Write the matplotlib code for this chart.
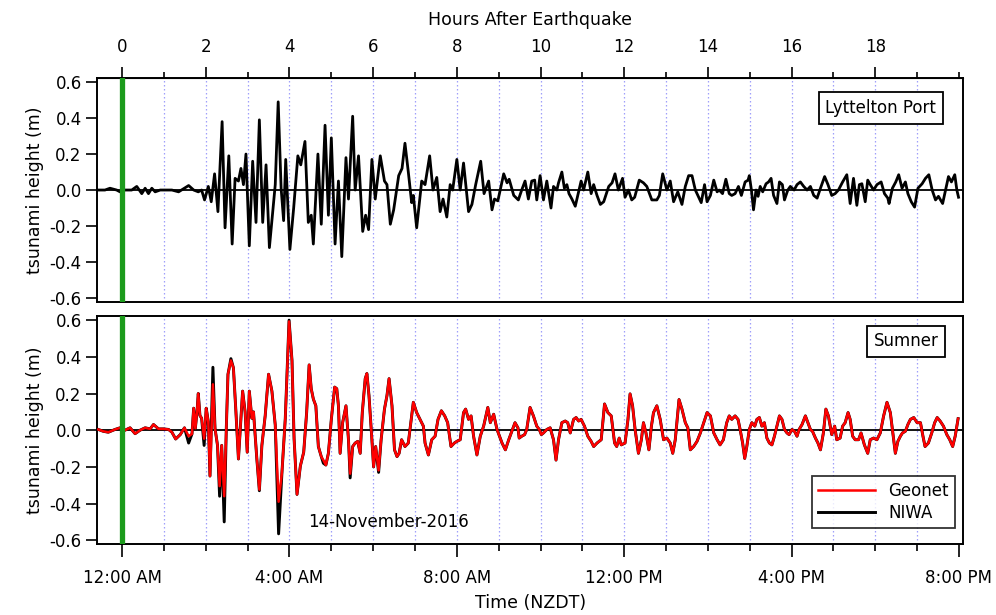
import matplotlib
matplotlib.use("Agg")
import matplotlib.pyplot as plt
from matplotlib.ticker import MultipleLocator, FormatStrFormatter

plt.rcParams['font.family'] = ['DejaVu Sans']
plt.rcParams['axes.unicode_minus'] = False

# ---------------- data (hours after earthquake, metres) ----------------
lyttelton_t = [-0.57, -0.41, -0.29, -0.13, -0.05, 0.07, 0.23, 0.35, 0.47, 0.55, 0.63, 0.71, 0.79, 0.91,
               1.19, 1.35, 1.59, 1.71, 1.82, 1.90, 1.97, 2.06, 2.13, 2.21, 2.29, 2.39, 2.46, 2.55, 2.63,
               2.70, 2.78, 2.84, 2.90, 2.96, 3.04, 3.12, 3.20, 3.28, 3.36, 3.44, 3.52, 3.66, 3.73, 3.80,
               3.86, 3.91, 4.01, 4.10, 4.20, 4.27, 4.37, 4.45, 4.52, 4.57, 4.68, 4.76, 4.85, 4.93, 5.00,
               5.09, 5.17, 5.25, 5.35, 5.41, 5.51, 5.57, 5.65, 5.75, 5.82, 5.89, 5.97, 6.05, 6.17, 6.27,
               6.33, 6.41, 6.49, 6.61, 6.69, 6.76, 6.84, 6.92, 6.96, 7.04, 7.16, 7.24, 7.35, 7.43, 7.52,
               7.60, 7.67, 7.76, 7.84, 7.90, 8.00, 8.08, 8.16, 8.28, 8.36, 8.45, 8.57, 8.65, 8.76, 8.84,
               8.90, 8.98, 9.12, 9.20, 9.25, 9.36, 9.47, 9.55, 9.63, 9.71, 9.79, 9.86, 9.91, 9.99, 10.07,
               10.15, 10.25, 10.31, 10.39, 10.43, 10.51, 10.57, 10.63, 10.68, 10.75, 10.83, 10.91, 10.97,
               11.03, 11.13, 11.21, 11.27, 11.35, 11.43, 11.51, 11.63, 11.71, 11.78, 11.86, 11.96, 12.02,
               12.10, 12.18, 12.25, 12.36, 12.46, 12.54, 12.66, 12.78, 12.84, 12.92, 13.02, 13.10, 13.18,
               13.28, 13.38, 13.46, 13.54, 13.62, 13.70, 13.74, 13.84, 13.92, 13.98, 14.06, 14.14, 14.22,
               14.27, 14.35, 14.43, 14.51, 14.57, 14.65, 14.73, 14.80, 14.89, 14.96, 14.99, 15.04, 15.09,
               15.15, 15.20, 15.25, 15.31, 15.39, 15.45, 15.51, 15.57, 15.65, 15.71, 15.78, 15.83, 15.91,
               15.97, 16.06, 16.13, 16.21, 16.29, 16.37, 16.45, 16.53, 16.61, 16.69, 16.79, 16.87, 16.96,
               17.04, 17.12, 17.22, 17.32, 17.40, 17.48, 17.56, 17.62, 17.68, 17.76, 17.82, 17.88, 17.96,
               18.04, 18.14, 18.22, 18.30, 18.33, 18.41, 18.49, 18.56, 18.64, 18.72, 18.78, 18.86, 18.94,
               19.02, 19.12, 19.20, 19.28, 19.36, 19.44, 19.51, 19.61, 19.69, 19.75, 19.82, 19.90, 19.95,
               19.99]
lyttelton_h = [0.0, 0.0, 0.01, 0.0, -0.01, 0.0, 0.0, 0.02, -0.02, 0.01, -0.02, 0.01, -0.01, 0.0,
               0.0, -0.01, 0.025, 0.0, -0.01, 0.0, -0.055, 0.02, -0.065, 0.09, -0.12, 0.38, -0.21, 0.19, -0.30,
               0.065, 0.05, 0.12, 0.03, 0.20, -0.31, 0.16, -0.18, 0.39, -0.18, 0.14, -0.32, 0.03, 0.49, 0.01,
               -0.17, 0.17, -0.33, -0.10, 0.19, 0.14, 0.27, -0.18, -0.14, -0.30, 0.20, -0.19, 0.36, -0.14, 0.29,
               -0.30, 0.05, -0.37, 0.18, -0.05, 0.41, 0.0, 0.19, -0.23, -0.14, -0.22, 0.17, -0.05, 0.19, 0.05,
               0.03, -0.19, -0.11, 0.08, 0.12, 0.26, 0.10, -0.07, -0.03, -0.21, 0.05, 0.03, 0.19, 0.0, 0.07,
               -0.12, -0.05, -0.15, 0.03, 0.0, 0.17, 0.0, 0.15, -0.12, -0.08, 0.03, 0.16, -0.02, 0.05, -0.11,
               -0.05, -0.06, 0.09, 0.04, 0.06, -0.03, -0.055, 0.0, 0.05, -0.05, 0.05, 0.055, -0.055, 0.08, -0.055,
               0.05, -0.10, 0.02, 0.0, 0.04, 0.10, 0.01, 0.03, -0.02, -0.05, -0.09, -0.01, 0.05,
               0.0, 0.10, -0.02, 0.03, -0.03, -0.08, -0.065, 0.02, 0.04, 0.09, 0.0, 0.065, -0.04,
               0.0, -0.055, -0.04, 0.055, 0.04, 0.02, -0.055, -0.055, -0.03, 0.09, 0.0, 0.05, -0.065,
               -0.01, -0.08, 0.02, 0.08, 0.08, 0.0, -0.02, -0.07, 0.03, -0.065, -0.03, 0.055, -0.01,
               0.0, -0.02, 0.06, -0.02, -0.03, -0.02, 0.02, -0.03, 0.045, 0.055, 0.08, 0.0, -0.11,
               0.0, -0.035, 0.02, -0.01, 0.035, 0.045, 0.065, -0.03, -0.075, 0.045, 0.03, -0.055, 0.0,
               0.02, 0.0, 0.03, 0.045, 0.02, 0.0, 0.02, -0.03, -0.045, 0.01, 0.075, 0.03, -0.03,
               -0.02, 0.0, 0.045, 0.085, -0.075, 0.065, -0.085, 0.03, 0.035, -0.065, 0.055, 0.03, 0.0,
               0.03, 0.045, -0.02, -0.045, -0.075, 0.01, 0.045, 0.085, 0.01, 0.045, -0.02, -0.065, -0.095,
               0.01, 0.035, 0.065, 0.085, 0.0, -0.055, -0.035, -0.075, 0.01, 0.075, 0.045, 0.085, 0.0,
               -0.04]

sumner_t = [-0.57, -0.45, -0.33, -0.17, -0.05, 0.07, 0.19, 0.31, 0.43, 0.55, 0.67, 0.75, 0.87, 0.99,
            1.11, 1.19, 1.28, 1.39, 1.49, 1.59, 1.67, 1.71, 1.75, 1.79, 1.82, 1.86, 1.90, 1.96, 2.01,
            2.06, 2.10, 2.17, 2.22, 2.28, 2.33, 2.38, 2.44, 2.49, 2.53, 2.60, 2.66, 2.72, 2.78, 2.88,
            2.94, 2.99, 3.04, 3.10, 3.14, 3.22, 3.28, 3.34, 3.42, 3.50, 3.58, 3.66, 3.74, 3.82, 3.90,
            3.99, 4.06, 4.11, 4.18, 4.26, 4.34, 4.41, 4.47, 4.52, 4.57, 4.63, 4.69, 4.76, 4.81, 4.87,
            4.93, 5.00, 5.08, 5.13, 5.17, 5.21, 5.27, 5.35, 5.41, 5.45, 5.51, 5.57, 5.63, 5.69, 5.74,
            5.81, 5.85, 5.90, 5.97, 6.01, 6.06, 6.13, 6.19, 6.27, 6.33, 6.38, 6.45, 6.51, 6.57, 6.62,
            6.68, 6.76, 6.84, 6.91, 6.96, 7.04, 7.12, 7.20, 7.24, 7.32, 7.40, 7.48, 7.55, 7.63, 7.71,
            7.78, 7.86, 7.94, 8.00, 8.08, 8.16, 8.21, 8.28, 8.34, 8.40, 8.48, 8.56, 8.64, 8.74, 8.80,
            8.88, 8.96, 9.08, 9.16, 9.24, 9.36, 9.39, 9.46, 9.49, 9.55, 9.62, 9.67, 9.75, 9.83, 9.91,
            9.97, 10.02, 10.07, 10.15, 10.23, 10.31, 10.37, 10.43, 10.51, 10.59, 10.65, 10.71, 10.79,
            10.85, 10.91, 10.97, 11.05, 11.13, 11.21, 11.27, 11.35, 11.45, 11.53, 11.61, 11.69, 11.77,
            11.82, 11.88, 11.93, 12.02, 12.09, 12.14, 12.20, 12.26, 12.34, 12.41, 12.46, 12.52, 12.59,
            12.65, 12.70, 12.78, 12.86, 12.94, 13.02, 13.10, 13.16, 13.22, 13.31, 13.38, 13.46, 13.52,
            13.58, 13.66, 13.74, 13.82, 13.90, 13.98, 14.06, 14.14, 14.22, 14.29, 14.37, 14.45, 14.51,
            14.57, 14.65, 14.72, 14.77, 14.83, 14.88, 14.93, 14.99, 15.05, 15.12, 15.17, 15.23, 15.29,
            15.35, 15.41, 15.47, 15.53, 15.59, 15.65, 15.71, 15.77, 15.83, 15.89, 15.94, 16.01, 16.07,
            16.13, 16.18, 16.25, 16.33, 16.39, 16.45, 16.50, 16.57, 16.63, 16.69, 16.76, 16.82, 16.88,
            16.96, 17.03, 17.08, 17.16, 17.22, 17.28, 17.35, 17.40, 17.46, 17.52, 17.60, 17.66, 17.74,
            17.82, 17.88, 17.96, 18.04, 18.12, 18.20, 18.28, 18.36, 18.41, 18.48, 18.54, 18.60, 18.65,
            18.72, 18.78, 18.84, 18.92, 19.00, 19.08, 19.14, 19.19, 19.27, 19.35, 19.42, 19.48, 19.55,
            19.63, 19.71, 19.78, 19.85, 19.91, 19.98]
geonet_h = [0.004, -0.006, -0.011, 0.004, 0.013, 0.0, 0.013, -0.019, 0.0, 0.013, 0.007, 0.031, 0.007, 0.007,
            0.004, -0.011, -0.048, -0.024, 0.013, -0.033, -0.02, 0.12, 0.01, 0.10, 0.20, 0.08, 0.065, -0.046, 0.12,
            0.046, -0.25, 0.25, 0.01, -0.083, -0.305, -0.083, -0.36, 0.01, 0.305, 0.38, 0.34, 0.10, -0.157, 0.213,
            0.10, -0.12, 0.213, 0.065, 0.10, -0.157, -0.324, -0.083, 0.08, 0.305, 0.213, 0.028, -0.39, -0.23, 0.065,
            0.593, 0.38, -0.046, -0.35, -0.195, -0.12, 0.096, 0.356, 0.226, 0.17, 0.133, -0.089, -0.144, -0.163, -0.19,
            -0.126, 0.059, 0.235, 0.226, 0.133, -0.126, 0.041, 0.133, -0.052, -0.237, -0.089, -0.07, -0.061, -0.126, 0.096,
            0.281, 0.309, 0.189, -0.052, -0.2, -0.089, -0.219, -0.052, 0.115, 0.189, 0.281, 0.133, -0.107, -0.144, -0.126,
            -0.052, -0.089, -0.07, 0.059, 0.152, 0.096, 0.059, 0.022, -0.07, -0.135, -0.052, -0.033, 0.059, 0.106, 0.078,
            0.041, -0.089, -0.07, -0.061, -0.052, 0.096, 0.115, 0.059, 0.078, -0.033, -0.135, -0.033, 0.022, 0.124, 0.041,
            0.087, 0.004, -0.07, -0.107, -0.052, 0.022, 0.041, 0.013, -0.043, -0.033, -0.024, 0.004, 0.124, 0.078, 0.022,
            0.004, -0.024, -0.015, 0.004, 0.013, -0.052, -0.163, -0.052, 0.041, 0.05, 0.041, -0.015, 0.059,
            0.069, 0.05, 0.059, 0.022, -0.033, -0.061, -0.089, -0.07, -0.052, 0.143, 0.096, 0.078, -0.07,
            -0.089, -0.043, -0.08, -0.07, 0.059, 0.198, 0.133, 0.004, -0.126, -0.052, 0.041, -0.015, -0.107,
            0.022, 0.096, 0.133, 0.059, -0.052, -0.043, -0.07, -0.126, -0.052, 0.167, 0.115, 0.041, 0.013,
            -0.107, -0.089, -0.061, -0.015, 0.041, 0.096, 0.078, -0.015, -0.052, -0.08, -0.052, 0.041, 0.078,
            0.059, 0.078, 0.059, 0.004, -0.07, -0.154, -0.089, 0.004, 0.041, 0.022, 0.059, 0.069, 0.022,
            0.041, -0.043, -0.07, -0.08, -0.033, 0.022, 0.078, 0.059, 0.004, -0.015, -0.024, 0.004, -0.006,
            -0.033, 0.004, 0.031, 0.078, 0.041, 0.004, -0.006, -0.043, -0.07, -0.107, -0.015, 0.115, 0.078,
            -0.024, 0.022, -0.052, -0.043, 0.022, 0.041, 0.096, 0.059, -0.033, -0.052, -0.052, -0.015, -0.08,
            -0.126, -0.052, -0.043, -0.052, -0.015, 0.078, 0.152, 0.096, 0.004, -0.126, -0.061, -0.033, -0.015,
            -0.006, 0.031, 0.059, 0.069, 0.041, 0.041, -0.033, -0.089, -0.07, -0.015, 0.041, 0.069, 0.05,
            0.022, -0.024, -0.052, -0.089, -0.033, 0.063]
niwa_h = [0.004, -0.006, -0.011, 0.004, 0.013, 0.0, 0.013, -0.019, 0.0, 0.013, 0.007, 0.031, 0.007, 0.007,
          0.004, -0.011, -0.048, -0.024, 0.013, -0.07, -0.02, 0.12, 0.01, 0.10, 0.20, 0.08, 0.065, -0.083, 0.12,
          0.046, -0.25, 0.343, 0.01, -0.083, -0.36, -0.083, -0.50, 0.01, 0.305, 0.39, 0.34, 0.10, -0.157, 0.213,
          0.10, -0.12, 0.213, 0.065, 0.10, -0.157, -0.33, -0.083, 0.08, 0.305, 0.213, 0.028, -0.565, -0.23, 0.065,
          0.60, 0.38, -0.046, -0.35, -0.195, -0.12, 0.096, 0.356, 0.226, 0.17, 0.133, -0.089, -0.144, -0.18, -0.19,
          -0.126, 0.059, 0.235, 0.226, 0.133, -0.126, 0.041, 0.133, -0.052, -0.26, -0.089, -0.07, -0.061, -0.126, 0.096,
          0.281, 0.309, 0.189, -0.052, -0.2, -0.089, -0.23, -0.052, 0.115, 0.189, 0.281, 0.133, -0.107, -0.144, -0.126,
          -0.052, -0.089, -0.07, 0.059, 0.152, 0.096, 0.059, 0.022, -0.07, -0.135, -0.052, -0.033, 0.059, 0.106, 0.078,
          0.041, -0.089, -0.07, -0.061, -0.052, 0.096, 0.115, 0.059, 0.078, -0.033, -0.135, -0.033, 0.022, 0.124, 0.041,
          0.087, 0.004, -0.07, -0.107, -0.052, 0.022, 0.041, 0.013, -0.043, -0.033, -0.024, 0.004, 0.124, 0.078, 0.022,
          0.004, -0.024, -0.015, 0.004, 0.013, -0.052, -0.163, -0.052, 0.041, 0.05, 0.041, -0.015, 0.059,
          0.069, 0.05, 0.059, 0.022, -0.033, -0.061, -0.089, -0.07, -0.052, 0.143, 0.096, 0.078, -0.07,
          -0.089, -0.043, -0.08, -0.07, 0.059, 0.198, 0.133, 0.004, -0.126, -0.052, 0.041, -0.015, -0.107,
          0.022, 0.096, 0.133, 0.059, -0.052, -0.043, -0.07, -0.126, -0.052, 0.167, 0.115, 0.041, 0.013,
          -0.107, -0.089, -0.061, -0.015, 0.041, 0.096, 0.078, -0.015, -0.052, -0.08, -0.052, 0.041, 0.078,
          0.059, 0.078, 0.059, 0.004, -0.07, -0.154, -0.089, 0.004, 0.041, 0.022, 0.059, 0.069, 0.022,
          0.041, -0.043, -0.07, -0.08, -0.033, 0.022, 0.078, 0.059, 0.004, -0.015, -0.024, 0.004, -0.006,
          -0.033, 0.004, 0.031, 0.078, 0.041, 0.004, -0.006, -0.043, -0.07, -0.107, -0.015, 0.115, 0.078,
          -0.024, 0.022, -0.052, -0.043, 0.022, 0.041, 0.096, 0.059, -0.033, -0.052, -0.052, -0.015, -0.08,
          -0.126, -0.052, -0.043, -0.052, -0.015, 0.078, 0.152, 0.096, 0.004, -0.126, -0.061, -0.033, -0.015,
          -0.006, 0.031, 0.059, 0.069, 0.041, 0.041, -0.033, -0.089, -0.07, -0.015, 0.041, 0.069, 0.05,
          0.022, -0.024, -0.052, -0.089, -0.033, 0.063]

time_ticks = [0, 4, 8, 12, 16, 20]
time_labels = ["12:00 AM", "4:00 AM", "8:00 AM", "12:00 PM", "4:00 PM", "8:00 PM"]
hour_ticks = [0, 2, 4, 6, 8, 10, 12, 14, 16, 18]
grid_hours = list(range(1, 20))
y_ticks = [-0.6, -0.4, -0.2, 0.0, 0.2, 0.4, 0.6]

# ---------------- figure ----------------
fig = plt.figure(figsize=(9.96, 6.15), dpi=100)
L, R = 0.0974, 0.967
ax1 = fig.add_axes([L, 0.509, R - L, 0.873 - 0.509])
ax2 = fig.add_axes([L, 0.115, R - L, 0.486 - 0.115])

XMIN, XMAX = -0.60, 20.10
YMIN, YMAX = -0.622, 0.622
grid_col = '#9f9ffa'
green = '#1c9b1c'

for ax in (ax1, ax2):
    ax.set_xlim(XMIN, XMAX)
    ax.set_ylim(YMIN, YMAX)
    for g in grid_hours:
        ax.axvline(g, color=grid_col, lw=0.9, ls=(0, (1.2, 2.0)), zorder=1)
    ax.axhline(0, color='black', lw=1.3, zorder=2)
    ax.axvline(0, color=green, lw=3.8, zorder=5)
    ax.set_yticks(y_ticks)
    ax.yaxis.set_major_formatter(FormatStrFormatter('%.1f'))
    ax.tick_params(axis='y', direction='out', length=8, width=1.2, labelsize=12, pad=3)
    ax.set_ylabel('tsunami height (m)', fontsize=12.5, labelpad=4)
    for s in ax.spines.values():
        s.set_linewidth(1.4)

# top panel
ax1.plot(lyttelton_t, lyttelton_h, color='black', lw=2.0, zorder=3)
ax1.set_xticks([])
ax1.text(0.905, 0.866, 'Lyttelton Port', transform=ax1.transAxes, ha='center', va='center',
         fontsize=12, bbox=dict(boxstyle='square,pad=0.4', fc='white', ec='black', lw=1.3), zorder=6)

top = ax1.secondary_xaxis('top')
top.set_xticks(hour_ticks)
top.set_xticklabels([str(h) for h in hour_ticks])
top.xaxis.set_minor_locator(MultipleLocator(1))
top.tick_params(axis='x', which='major', direction='out', length=8, width=1.2, labelsize=12, pad=8)
top.tick_params(axis='x', which='minor', direction='out', length=4, width=1.2)
top.set_xlabel('Hours After Earthquake', fontsize=12.5, labelpad=9)

# bottom panel
ax2.plot(sumner_t, niwa_h, color='black', lw=2.1, zorder=3, label='NIWA')
ax2.plot(sumner_t, geonet_h, color='#ff0000', lw=1.8, zorder=4, label='Geonet')
ax2.set_xticks(time_ticks)
ax2.set_xticklabels(time_labels)
ax2.xaxis.set_minor_locator(MultipleLocator(1))
ax2.tick_params(axis='x', which='major', direction='out', length=9, width=1.2, labelsize=12, pad=9)
ax2.tick_params(axis='x', which='minor', direction='out', length=5, width=1.2)
ax2.set_xlabel('Time (NZDT)', fontsize=12.5, labelpad=5)
ax2.text(0.934, 0.89, 'Sumner', transform=ax2.transAxes, ha='center', va='center',
         fontsize=12, bbox=dict(boxstyle='square,pad=0.4', fc='white', ec='black', lw=1.3), zorder=6)
ax2.text(4.45, -0.50, '14-November-2016', ha='left', va='center', fontsize=12, zorder=6)

h, l = ax2.get_legend_handles_labels()
leg = ax2.legend([h[1], h[0]], [l[1], l[0]], loc='lower right', bbox_to_anchor=(0.991, 0.07),
                 frameon=True, fancybox=False, fontsize=12, handlelength=3.4,
                 borderpad=0.4, labelspacing=0.2, handletextpad=0.8, borderaxespad=0.0)
leg.get_frame().set_edgecolor('black')
leg.get_frame().set_linewidth(1.3)
leg.set_zorder(7)

fig.savefig('out.png', dpi=100)
